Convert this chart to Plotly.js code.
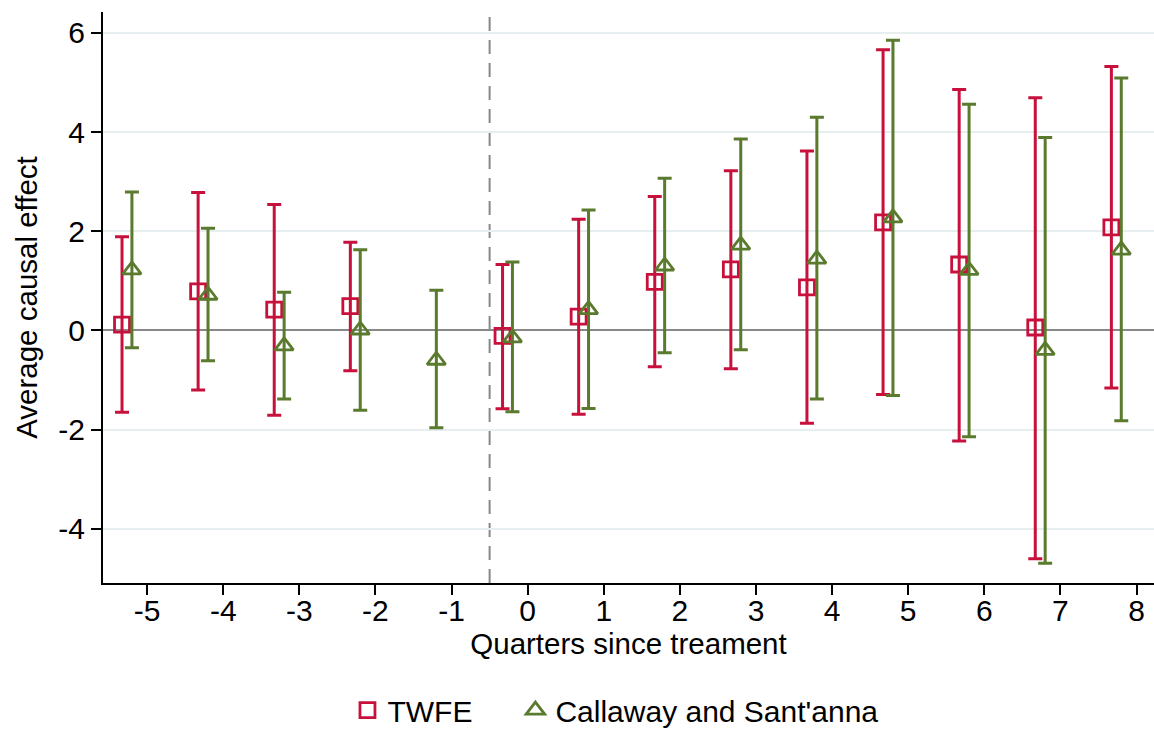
<!DOCTYPE html>
<html>
<head>
<meta charset="utf-8">
<script src="https://cdn.plot.ly/plotly-3.0.1.min.js"></script>
<style>
html,body{margin:0;padding:0;background:#fff;}
#chart{width:1154px;height:729px;}
</style>
</head>
<body>
<div id="chart"></div>
<script>
// Data
const quartersTWFE = [-5, -4, -3, -2, 0, 1, 2, 3, 4, 5, 6, 7, 8];
const twfeEst = [0.12, 0.79, 0.42, 0.49, -0.11, 0.28, 0.98, 1.23, 0.87, 2.18, 1.33, 0.06, 2.08];
const twfeLo  = [-1.65, -1.20, -1.71, -0.81, -1.58, -1.69, -0.73, -0.77, -1.87, -1.29, -2.23, -4.60, -1.16];
const twfeHi  = [1.89, 2.78, 2.54, 1.78, 1.33, 2.24, 2.70, 3.22, 3.62, 5.66, 4.86, 4.69, 5.32];

const quartersCS = [-5, -4, -3, -2, -1, 0, 1, 2, 3, 4, 5, 6, 7, 8];
const csEst = [1.22, 0.71, -0.31, 0.01, -0.60, -0.15, 0.42, 1.30, 1.72, 1.44, 2.27, 1.21, -0.40, 1.62];
const csLo  = [-0.35, -0.61, -1.38, -1.61, -1.96, -1.64, -1.57, -0.45, -0.39, -1.38, -1.31, -2.14, -4.69, -1.82];
const csHi  = [2.79, 2.06, 0.77, 1.63, 0.81, 1.38, 2.43, 3.07, 3.86, 4.30, 5.85, 4.56, 3.89, 5.09];

const xTicks = [-5, -4, -3, -2, -1, 0, 1, 2, 3, 4, 5, 6, 7, 8];
const yTicks = [-4, -2, 0, 2, 4, 6];

const RED = '#c8103c';
const GREEN = '#5a7a2e';
const offTWFE = -0.33, offCS = -0.2;

const traces = [
  {
    type: 'scatter', mode: 'markers', name: 'TWFE', legend: 'legend',
    x: quartersTWFE.map(q => q + offTWFE), y: twfeEst,
    error_y: {type: 'data', symmetric: false,
      array: twfeHi.map((h, i) => h - twfeEst[i]),
      arrayminus: twfeLo.map((l, i) => twfeEst[i] - l),
      color: RED, thickness: 3, width: 7},
    marker: {symbol: 'square-open', size: 15, color: RED, line: {width: 2.8, color: RED}}
  },
  {
    type: 'scatter', mode: 'markers', name: "Callaway and Sant'anna", legend: 'legend2',
    x: quartersCS.map(q => q + offCS), y: csEst,
    error_y: {type: 'data', symmetric: false,
      array: csHi.map((h, i) => h - csEst[i]),
      arrayminus: csLo.map((l, i) => csEst[i] - l),
      color: GREEN, thickness: 3, width: 7},
    marker: {symbol: 'triangle-up-open', size: 16, color: GREEN, line: {width: 2.8, color: GREEN}}
  }
];

const legendBase = {orientation: 'h', xanchor: 'left', yref: 'container', y: 0.026, yanchor: 'middle',
  font: {size: 30}, itemwidth: 30, bgcolor: 'rgba(0,0,0,0)'};

const layout = {
  width: 1154, height: 729,
  paper_bgcolor: '#ffffff', plot_bgcolor: '#ffffff',
  font: {family: '"Liberation Sans", Arial, sans-serif', size: 30, color: '#000'},
  margin: {l: 103, r: 0, t: 12, b: 146},
  showlegend: true,
  legend: Object.assign({}, legendBase, {x: 0.2326}),
  legend2: Object.assign({}, legendBase, {x: 0.3924}),
  xaxis: {
    range: [-5.58, 8.23], tickvals: xTicks, ticktext: xTicks.map(String),
    showgrid: false, zeroline: false, showline: true, linecolor: '#000', linewidth: 2,
    ticks: 'outside', ticklen: 10, tickwidth: 2, tickcolor: '#000',
    ticklabelstandoff: -10,
    tickfont: {size: 30},
    title: {text: 'Quarters since treament', font: {size: 29.5}, standoff: 1}
  },
  yaxis: {
    range: [-5.09, 6.42], tickvals: yTicks, ticktext: yTicks.map(String),
    showgrid: true, gridcolor: '#e6eef0', gridwidth: 2,
    zeroline: true, zerolinecolor: '#888888', zerolinewidth: 2,
    showline: true, linecolor: '#000', linewidth: 2,
    ticks: 'outside', ticklen: 10, tickwidth: 2, tickcolor: '#000',
    tickfont: {size: 30},
    title: {text: 'Average causal effect', font: {size: 29.5}, standoff: 12}
  },
  shapes: [{
    type: 'line', xref: 'x', yref: 'paper', x0: -0.5, x1: -0.5, y0: 0, y1: 1,
    line: {color: '#888888', width: 2, dash: '14px,9px'}, layer: 'below'
  }]
};

Plotly.newPlot('chart', traces, layout, {displayModeBar: false, staticPlot: true});
</script>
</body>
</html>
